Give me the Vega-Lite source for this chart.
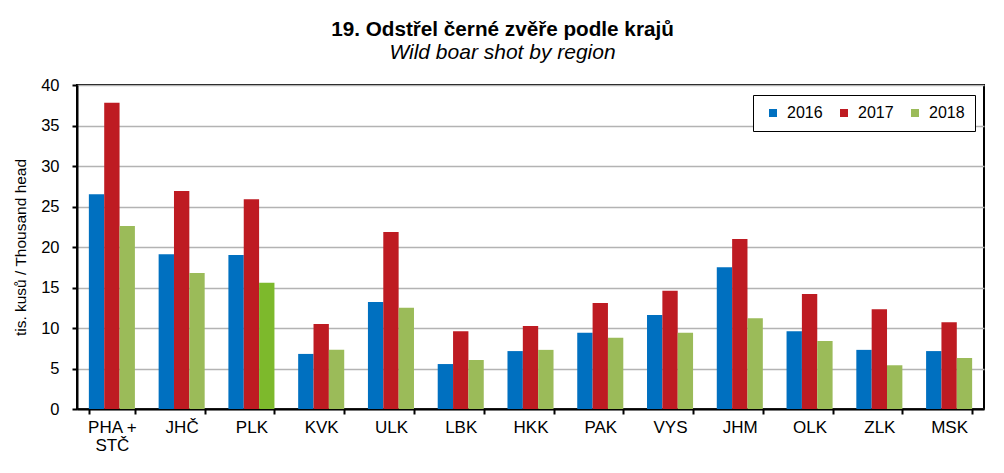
{
  "$schema": "https://vega.github.io/schema/vega-lite/v6.json",
  "autosize": {"type": "none"},
  "width": 907,
  "height": 324,
  "padding": {"left": 77, "top": 85, "right": 20, "bottom": 64},
  "background": "white",
  "title": {
    "text": "19. Odstřel černé zvěře podle krajů",
    "subtitle": "Wild boar shot by region",
    "anchor": "middle",
    "dx": -28,
    "offset": 13,
    "font": "Liberation Sans",
    "fontSize": 20.7,
    "fontWeight": "bold",
    "color": "black",
    "subtitleFont": "Liberation Sans",
    "subtitleFontSize": 21,
    "subtitleFontStyle": "italic",
    "subtitleColor": "black",
    "subtitlePadding": 1
  },
  "config": {
    "font": "Liberation Sans",
    "view": {"stroke": "black", "strokeWidth": 2},
    "axis": {"labelFont": "Liberation Sans", "titleFont": "Liberation Sans", "labelColor": "black", "titleColor": "black"}
  },
  "data": {
    "values": [
      {"region": "PHA + STČ", "year": "2016", "value": 26.5},
      {"region": "PHA + STČ", "year": "2017", "value": 37.8},
      {"region": "PHA + STČ", "year": "2018", "value": 22.6},
      {"region": "JHČ", "year": "2016", "value": 19.1},
      {"region": "JHČ", "year": "2017", "value": 26.9},
      {"region": "JHČ", "year": "2018", "value": 16.8},
      {"region": "PLK", "year": "2016", "value": 19.0},
      {"region": "PLK", "year": "2017", "value": 25.9},
      {"region": "PLK", "year": "2018", "value": 15.6},
      {"region": "KVK", "year": "2016", "value": 6.8},
      {"region": "KVK", "year": "2017", "value": 10.5},
      {"region": "KVK", "year": "2018", "value": 7.3},
      {"region": "ULK", "year": "2016", "value": 13.2},
      {"region": "ULK", "year": "2017", "value": 21.85},
      {"region": "ULK", "year": "2018", "value": 12.5},
      {"region": "LBK", "year": "2016", "value": 5.55},
      {"region": "LBK", "year": "2017", "value": 9.6},
      {"region": "LBK", "year": "2018", "value": 6.05},
      {"region": "HKK", "year": "2016", "value": 7.15},
      {"region": "HKK", "year": "2017", "value": 10.25},
      {"region": "HKK", "year": "2018", "value": 7.3},
      {"region": "PAK", "year": "2016", "value": 9.4},
      {"region": "PAK", "year": "2017", "value": 13.1},
      {"region": "PAK", "year": "2018", "value": 8.8},
      {"region": "VYS", "year": "2016", "value": 11.6},
      {"region": "VYS", "year": "2017", "value": 14.6},
      {"region": "VYS", "year": "2018", "value": 9.4},
      {"region": "JHM", "year": "2016", "value": 17.5},
      {"region": "JHM", "year": "2017", "value": 21.0},
      {"region": "JHM", "year": "2018", "value": 11.2},
      {"region": "OLK", "year": "2016", "value": 9.6},
      {"region": "OLK", "year": "2017", "value": 14.2},
      {"region": "OLK", "year": "2018", "value": 8.4},
      {"region": "ZLK", "year": "2016", "value": 7.3},
      {"region": "ZLK", "year": "2017", "value": 12.3},
      {"region": "ZLK", "year": "2018", "value": 5.4},
      {"region": "MSK", "year": "2016", "value": 7.15},
      {"region": "MSK", "year": "2017", "value": 10.7},
      {"region": "MSK", "year": "2018", "value": 6.3}
    ]
  },
  "mark": {"type": "bar"},
  "encoding": {
    "x": {
      "field": "region",
      "type": "nominal",
      "sort": null,
      "scale": {"paddingInner": 0.34, "paddingOuter": 0.17},
      "axis": {
        "title": null,
        "labelAngle": 0,
        "labelFontSize": 17,
        "labelPadding": 5,
        "tickBand": "extent",
        "tickSize": 5,
        "tickColor": "black",
        "tickWidth": 2,
        "domainColor": "black",
        "domainWidth": 2,
        "labelExpr": "datum.value == 'PHA + STČ' ? ['PHA +', 'STČ'] : datum.value",
        "labelLineHeight": 18
      }
    },
    "xOffset": {"field": "year", "type": "nominal"},
    "y": {
      "field": "value",
      "type": "quantitative",
      "scale": {"domain": [0, 40], "nice": false},
      "axis": {
        "title": "tis. kusů / Thousand head",
        "titleFontSize": 15.5,
        "titleFontWeight": "normal",
        "titlePadding": 12,
        "values": [0, 5, 10, 15, 20, 25, 30, 35, 40],
        "labelFontSize": 16.5,
        "labelPadding": 13,
        "tickSize": 5,
        "tickColor": "black",
        "tickWidth": 2,
        "domainColor": "black",
        "domainWidth": 2,
        "gridColor": "#B3B3B3",
        "gridWidth": 1.5
      }
    },
    "color": {
      "condition": {"test": "datum.region === 'PLK' && datum.year === '2018'", "value": "#7DB92C"},
      "field": "year",
      "type": "nominal",
      "scale": {"domain": ["2016", "2017", "2018"], "range": ["#0070C0", "#BE1B22", "#9BBB59"]},
      "legend": {
        "title": null,
        "orient": "none",
        "legendX": 676,
        "legendY": 10,
        "direction": "horizontal",
        "strokeColor": "black",
        "fillColor": "white",
        "padding": 10,
        "symbolType": "square",
        "symbolSize": 64,
        "symbolStrokeWidth": 0,
        "symbolOffset": 2,
        "labelOffset": 6,
        "labelFontSize": 16,
        "labelColor": "black",
        "labelFont": "Liberation Sans",
        "columnPadding": 11
      }
    }
  }
}
